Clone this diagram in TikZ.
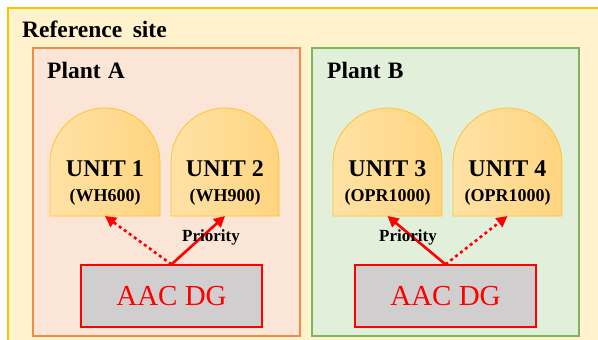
\documentclass[tikz,border=0pt]{standalone}
\usepackage{fontspec}
\setmainfont{Liberation Serif}
\usetikzlibrary{arrows.meta}
\definecolor{siteFill}{HTML}{FFF2CC}
\definecolor{siteLine}{HTML}{FFC000}
\definecolor{aFill}{HTML}{FBE5D6}
\definecolor{aLine}{HTML}{F08C46}
\definecolor{bFill}{HTML}{E2EFDA}
\definecolor{bLine}{HTML}{7DB55A}
\definecolor{unitL}{HTML}{FFE2A6}
\definecolor{unitR}{HTML}{FFD47F}
\definecolor{unitLine}{HTML}{FFC42E}
\definecolor{dgFill}{HTML}{D0CECE}
\tikzset{
  x=1pt,y=1pt,
  unitshape/.style={left color=unitL,right color=unitR,draw=unitLine,line width=0.8pt},
  unittitle/.style={font=\fontsize{24}{26}\selectfont\bfseries,inner sep=0pt,anchor=base},
  unitsub/.style={font=\fontsize{18}{20}\selectfont\bfseries,inner sep=0pt,anchor=base},
  dgbox/.style={draw=red,fill=dgFill,line width=1.2pt,text=red,font=\fontsize{29}{31}\selectfont,minimum width=181pt,minimum height=62pt,inner sep=0pt},
  plantlabel/.style={font=\fontsize{23.5}{25}\selectfont\bfseries,inner sep=0pt,anchor=base west},
  prio/.style={font=\fontsize{17}{19}\selectfont\bfseries,inner sep=0pt},
  solidarrow/.style={draw=red,line width=2.6pt,-{Triangle[length=11pt,width=11pt]}},
  dotarrow/.style={draw=red,line width=2.6pt,dash pattern=on 3pt off 3.2pt,-{Triangle[length=11pt,width=11pt]}},
}
\newcommand{\unitdome}[3]{% x1, x2, name
  \shade[unitshape] (#1,124) -- (#1,{340-108-(#2-#1)/2}) arc[start angle=180,end angle=0,radius={(#2-#1)/2}] -- (#2,124) -- cycle;
  \coordinate (#3) at ({(#1+#2)/2},124);
}
\begin{document}
\begin{tikzpicture}
\useasboundingbox (0,0) rectangle (598,340);
\clip (0,0) rectangle (598,340);
% outer site
\draw[fill=siteFill,draw=siteLine,line width=1.5pt] (8,-10) rectangle (610,332);
\node[plantlabel] (site) at (22,302) {Reference\hspace{0.45em}site};
% plants
\draw[fill=aFill,draw=aLine,line width=1.3pt] (33,4) rectangle (300,292);
\draw[fill=bFill,draw=bLine,line width=1.3pt] (312,4) rectangle (579,292);
\node[plantlabel] (pa) at (47,261) {Plant\hspace{0.3em}A};
\node[plantlabel] (pb) at (327,261) {Plant\hspace{0.3em}B};
% units
\unitdome{50}{160}{u1b}
\unitdome{171}{279}{u2b}
\unitdome{333}{442}{u3b}
\unitdome{453}{562}{u4b}
\node[unittitle] (u1) at (105,163) {UNIT 1};
\node[unitsub] (u1s) at (105,138) {(WH600)};
\node[unittitle] (u2) at (225,163) {UNIT 2};
\node[unitsub] (u2s) at (225,138) {(WH900)};
\node[unittitle] (u3) at (387.5,163) {UNIT 3};
\node[unitsub] (u3s) at (387.5,138) {(OPR1000)};
\node[unittitle] (u4) at (507.5,163) {UNIT 4};
\node[unitsub] (u4s) at (507.5,138) {(OPR1000)};
% AAC DG
\node[dgbox] (dga) at (171.5,44) {AAC DG};
\node[dgbox] (dgb) at (445.5,44) {AAC DG};
% arrows
\draw[dotarrow] (dga.north) -- (u1b);
\draw[solidarrow] (dga.north) -- (u2b);
\draw[solidarrow] (dgb.north) -- (u3b);
\draw[dotarrow] (dgb.north) -- (u4b);
\node[prio] (pra) at (211,103) {Priority};
\node[prio] (prb) at (408,103) {Priority};
\end{tikzpicture}
\end{document}
